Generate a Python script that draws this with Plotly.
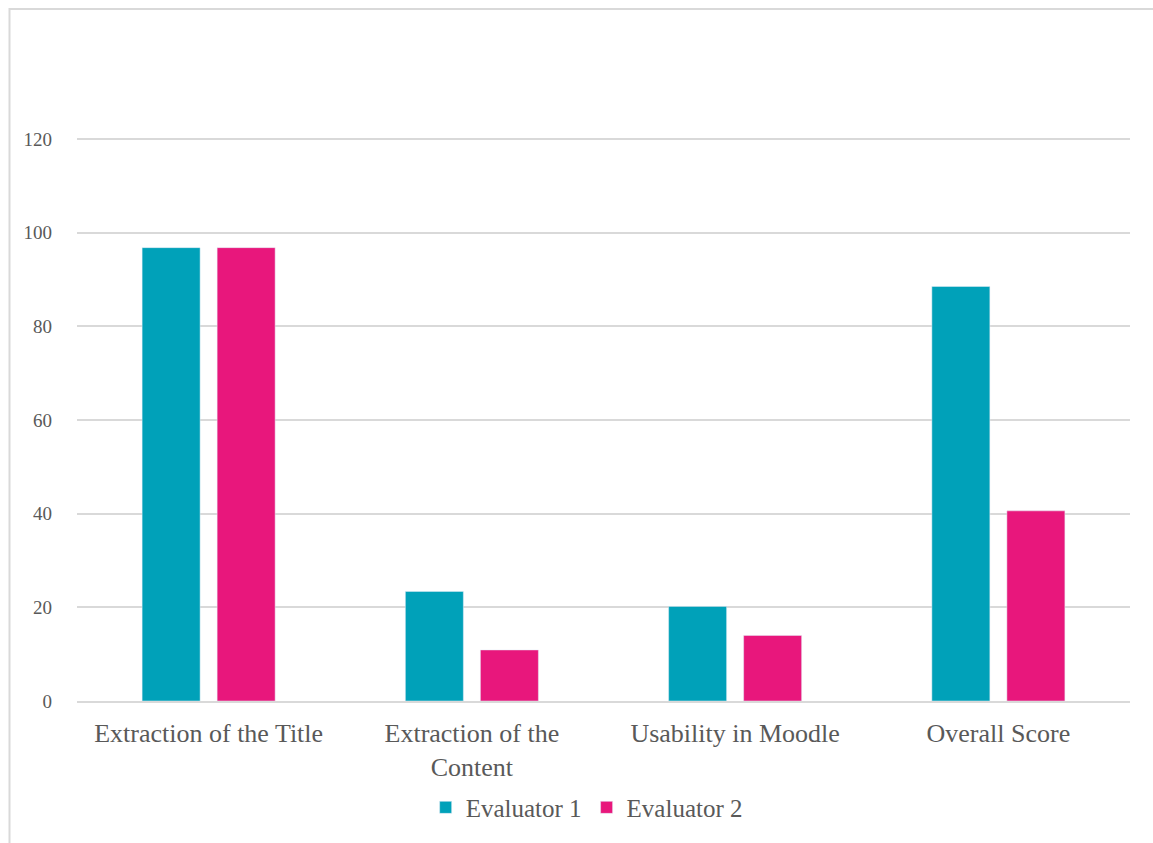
import plotly.graph_objects as go

categories = ["Extraction of the Title", "Extraction of the<br>Content", "Usability in Moodle", "Overall Score"]
evaluator1 = [96.8, 23.4, 20.2, 88.5]
evaluator2 = [96.8, 10.9, 14.0, 40.6]
series_names = ["Evaluator 1", "Evaluator 2"]
y_ticks = [0, 20, 40, 60, 80, 100, 120]

W, H = 1153, 843
L, R, T, B = 77, 23, 134, 140
pw, ph = W - L - R, H - T - B
y_top = (H - B - T) / 4.7

font_family = "Liberation Serif, DejaVu Serif, serif"
text_color = "#595959"

fig = go.Figure()
fig.add_trace(go.Bar(x=categories, y=evaluator1, name=series_names[0], marker_color="#00A1B9"))
fig.add_trace(go.Bar(x=categories, y=evaluator2, name=series_names[1], marker_color="#E8177C"))

fig.update_layout(
    width=W, height=H,
    margin=dict(l=L, r=R, t=T, b=B),
    paper_bgcolor="white", plot_bgcolor="white",
    barmode="group", bargap=0.43, bargroupgap=0.227,
    font=dict(family=font_family, color=text_color, size=20),
    legend=dict(orientation="h", x=0.484, xanchor="center", y=(H - B - 810) / ph, yanchor="middle",
                font=dict(size=25, color=text_color), itemwidth=30, traceorder="normal"),
    xaxis=dict(showgrid=False, showline=True, linecolor="#D9D9D9", linewidth=2,
               ticks="", ticklabelstandoff=8, tickfont=dict(size=26, color=text_color)),
    yaxis=dict(range=[0, y_top], tickvals=y_ticks, showgrid=True, gridcolor="#D9D9D9", gridwidth=1.5,
               zeroline=False, showline=False, ticks="", ticklabelstandoff=24,
               tickfont=dict(size=19, color=text_color)),
    shapes=[dict(type="rect", xref="paper", yref="paper",
                 x0=(9.5 - L) / pw, x1=1.1, y0=-0.4, y1=(H - B - 8.5) / ph,
                 line=dict(color="#D9D9D9", width=2), layer="below")],
)

fig.write_html("out.html")
